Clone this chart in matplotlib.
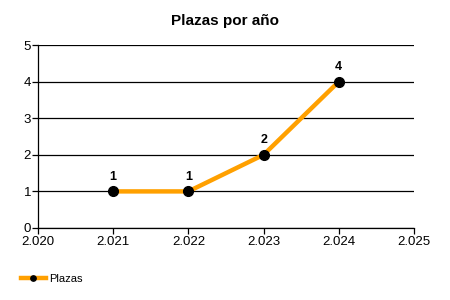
import matplotlib
matplotlib.use("Agg")
import matplotlib.pyplot as plt
from matplotlib.ticker import FuncFormatter, MultipleLocator

years = [2021, 2022, 2023, 2024]
plazas = [1, 1, 2, 4]
title = "Plazas por año"
series_name = "Plazas"

plt.rcParams['font.family'] = ['Liberation Sans', 'DejaVu Sans']

fig = plt.figure(figsize=(4.5, 3.0), dpi=100)
ax = fig.add_axes([38/450, 1 - 228/300, (414 - 38)/450, (228 - 45)/300])

ax.plot(years, plazas, color='#FFA000', lw=3.2, marker='o', ms=7,
        mfc='black', mec='black', label=series_name, zorder=3, clip_on=False)
for x, y in zip(years, plazas):
    ax.annotate(str(y), (x, y), xytext=(0, 6), textcoords='offset points',
                ha='center', va='bottom', fontsize=9, fontweight='bold')

ax.set_xlim(2020, 2025)
ax.set_ylim(0, 5)
ax.xaxis.set_major_locator(MultipleLocator(1))
ax.yaxis.set_major_locator(MultipleLocator(1))
ax.xaxis.set_major_formatter(FuncFormatter(lambda v, p: f"{int(v):,}".replace(",", ".")))
ax.yaxis.set_major_formatter(FuncFormatter(lambda v, p: f"{int(v)}"))
ax.grid(axis='y', color='black', lw=0.9)
ax.set_axisbelow(True)
for s in ['top', 'right']:
    ax.spines[s].set_visible(False)
for s in ['left', 'bottom']:
    ax.spines[s].set_linewidth(0.9)
ax.tick_params(axis='both', labelsize=9.5, length=4, width=0.9)
ax.tick_params(axis='x', pad=2)
ax.tick_params(axis='y', pad=1)

fig.suptitle(title, x=0.5, y=0.955, fontsize=11, fontweight='bold')
fig.legend(loc='lower left', bbox_to_anchor=(0.025, 0.02), frameon=False,
           fontsize=8, handlelength=2.2, markerscale=0.55, handletextpad=0.3)

fig.savefig("out.png", dpi=100)
